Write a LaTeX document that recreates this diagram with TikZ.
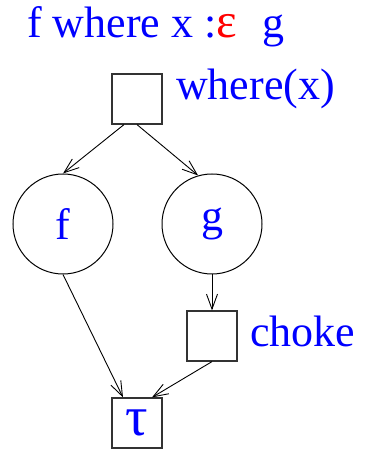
\documentclass[tikz,border=0pt]{standalone}
\usepackage{fontspec}
\setmainfont{Liberation Serif}
\usepackage{xcolor}
\usetikzlibrary{arrows.meta}

\definecolor{lblue}{RGB}{0,0,255}
\definecolor{lred}{RGB}{255,0,0}

\tikzset{
  opbox/.style={draw=black!80, line width=1.2pt, minimum size=50pt, inner sep=0pt, font=\fontsize{44}{50}\selectfont, text=lblue},
  opcirc/.style={draw, circle, line width=1pt, minimum size=100pt, inner sep=0pt, font=\fontsize{44}{50}\selectfont, text=lblue},
  lbl/.style={anchor=base west, inner sep=0pt, font=\fontsize{44}{50}\selectfont, text=lblue},
  flow/.style={line width=0.9pt, -{Straight Barb[length=15pt, width=11pt, line width=0.9pt]}}
}

\begin{document}
\begin{tikzpicture}[x=1pt, y=1pt]
  \useasboundingbox (0,0) rectangle (370,450);
  % titolo
  \node[lbl] (title) at (27,412) {f where x :{\color{lred}\fontsize{49}{50}\selectfont ε}\hspace{25pt}g};
  % nodi
  \node[opbox] (where) at (137,351) {};
  \node[lbl] (wherelbl) at (176,350) {where(x)};
  \node[opcirc] (f) at (63,226) {f};
  \node[opcirc] (g) at (212,226) {g};
  \node[opbox] (choke) at (212,114) {};
  \node[lbl] (chokelbl) at (250,103) {choke};
  \node[opbox] (tau) at (137,27) {\fontsize{56}{50}\selectfont τ};
  % archi
  \draw[flow] ([xshift=-13pt]where.south) -- (f.north);
  \draw[flow] (where.south) -- (g.106);
  \draw[flow] (f.south) -- ([xshift=-14pt]tau.north);
  \draw[flow] (g.south) -- (choke.north);
  \draw[flow] (choke.south) -- ([xshift=15pt]tau.north);
\end{tikzpicture}
\end{document}
